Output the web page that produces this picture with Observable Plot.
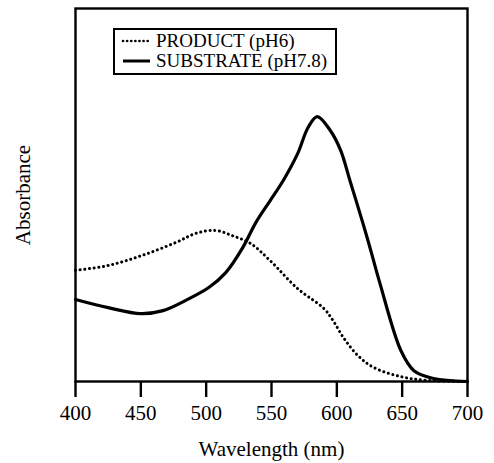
<!DOCTYPE html>
<html>
<head>
<meta charset="utf-8">
<script src="https://cdn.jsdelivr.net/npm/d3@7"></script>
<script src="https://cdn.jsdelivr.net/npm/@observablehq/plot@0.6"></script>
<style>
  html, body { margin: 0; padding: 0; background: #fff; }
  #wrap { position: relative; width: 494px; height: 463px; }
  #legend {
    position: absolute; left: 113px; top: 28px; width: 220px; height: 42px;
    border: 2px solid #000; background: #fff;
    font-family: "Liberation Serif", "DejaVu Serif", serif; font-size: 19px; line-height: 20px;
    box-sizing: content-box; padding-top: 1px;
  }
  #legend .row { display: flex; align-items: center; height: 20px; white-space: nowrap; }
  #legend svg { margin: 0 4px 0 5px; }
</style>
</head>
<body>
<div id="wrap"></div>
<script>
// Wavelength (nm) and relative absorbance
const substrateWl  = [400, 425, 450, 467, 484, 502, 515, 528, 538, 549, 559, 570, 578, 585, 595, 603, 610, 620, 626, 633, 649, 659, 674, 700];
const substrateAbs = [0.220, 0.198, 0.182, 0.190, 0.217, 0.252, 0.292, 0.359, 0.426, 0.485, 0.539, 0.611, 0.681, 0.710, 0.673, 0.619, 0.539, 0.424, 0.351, 0.263, 0.083, 0.029, 0.008, 0.000];
const productWl    = [400, 425, 451, 477, 492, 507, 520, 534, 549, 570, 590, 597, 605, 616, 628, 649, 669, 700];
const productAbs   = [0.298, 0.311, 0.338, 0.373, 0.397, 0.405, 0.391, 0.370, 0.324, 0.249, 0.196, 0.164, 0.118, 0.070, 0.038, 0.013, 0.003, 0.000];
const xTicks = [400, 450, 500, 550, 600, 650, 700];
const seriesNames = ["PRODUCT (pH6)", "SUBSTRATE (pH7.8)"];
const xLabel = "Wavelength (nm)";
const yLabel = "Absorbance";

const substrate = substrateWl.map((w, i) => ({w, a: substrateAbs[i]}));
const product = productWl.map((w, i) => ({w, a: productAbs[i]}));

const chart = Plot.plot({
  width: 494,
  height: 463,
  marginLeft: 75,
  marginRight: 27,
  marginTop: 8,
  marginBottom: 82,
  style: {fontFamily: "'Liberation Serif', 'DejaVu Serif', serif", background: "#fff", color: "#000"},
  x: {domain: [400, 700]},
  y: {domain: [0, 1]},
  marks: [
    Plot.line(product, {x: "w", y: "a", curve: "catmull-rom", stroke: "#000", strokeWidth: 3, strokeDasharray: "0.1 4.6", strokeLinecap: "round"}),
    Plot.line(substrate, {x: "w", y: "a", curve: "catmull-rom", stroke: "#000", strokeWidth: 3.2}),
    Plot.frame({stroke: "#000", strokeWidth: 2.4}),
    Plot.axisX({ticks: xTicks, tickSize: 16, tickPadding: 8, strokeWidth: 2.4, fontSize: 21, tickFormat: d => String(d),
      label: xLabel, labelAnchor: "center", labelOffset: 74, labelArrow: "none"}),
    Plot.axisY({ticks: [], label: yLabel, labelAnchor: "center", labelOffset: 60, fontSize: 21, labelArrow: "none"})
  ]
});
const wrap = document.getElementById("wrap");
wrap.appendChild(chart);

// Legend inside the plot area
const legend = document.createElement("div");
legend.id = "legend";
const styles = [
  {dash: "0.1 4", cap: "round", w: 2.6},
  {dash: null, cap: "butt", w: 3}
];
seriesNames.forEach((name, i) => {
  const row = document.createElement("div");
  row.className = "row";
  const s = styles[i];
  row.innerHTML = `<svg width="32" height="10"><line x1="3" y1="5" x2="30" y2="5" stroke="#000" stroke-width="${s.w}" ${s.dash ? `stroke-dasharray="${s.dash}"` : ""} stroke-linecap="${s.cap}"/></svg><span>${name}</span>`;
  legend.appendChild(row);
});
wrap.appendChild(legend);
</script>
</body>
</html>
